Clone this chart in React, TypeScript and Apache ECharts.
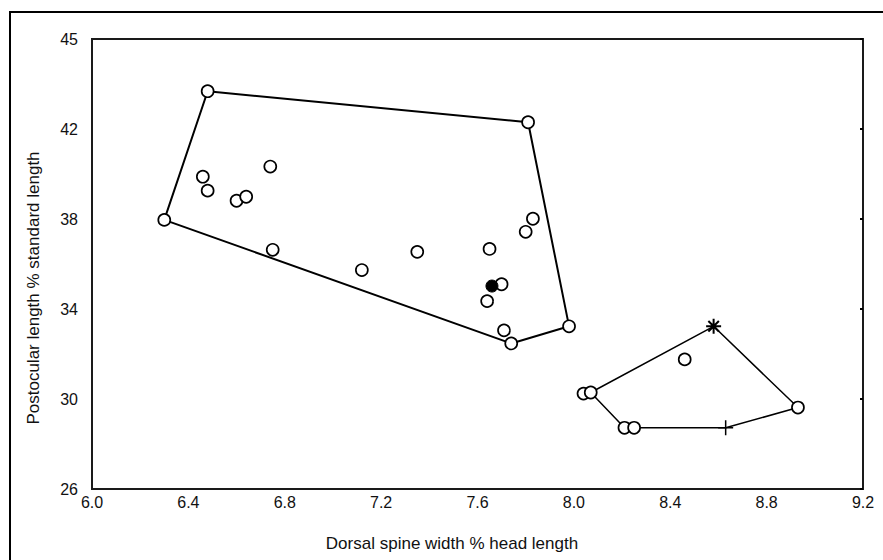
import React, { useEffect, useRef } from "react";
import * as echarts from "echarts";

// Group 1 (large polygon) open circles; first five are hull vertices
const group1X = [6.48, 7.81, 7.98, 7.74, 6.30, 6.46, 6.48, 6.60, 6.64, 6.74, 6.75, 7.12, 7.35, 7.65, 7.80, 7.83, 7.70, 7.64, 7.71];
const group1Y = [43.68, 42.3, 33.23, 32.47, 37.96, 39.88, 39.26, 38.81, 38.99, 40.33, 36.63, 35.73, 36.54, 36.67, 37.43, 38.01, 35.1, 34.35, 33.05];
const hull1Order = [0, 1, 2, 3, 4, 0];
// filled point
const filledX = [7.66];
const filledY = [35.02];

// Group 2 (small polygon) open circles
const group2X = [8.04, 8.07, 8.21, 8.25, 8.93, 8.46];
const group2Y = [30.24, 30.29, 28.72, 28.72, 29.62, 31.76];
const starX = [8.58];
const starY = [33.23];
const plusX = [8.63];
const plusY = [28.72];

const xTickLabels = ["6.0", "6.4", "6.8", "7.2", "7.6", "8.0", "8.4", "8.8", "9.2"];
const yTickValues = [26, 30, 34, 38, 42, 46];
const yTickLabels = ["26", "30", "34", "38", "42", "45"];

const xTitle = "Dorsal spine width % head length";
const yTitle = "Postocular length % standard length";

const FONT = '"Liberation Sans", Arial, sans-serif';

export default function App() {
  const ref = useRef<HTMLDivElement>(null);
  useEffect(() => {
    if (!ref.current) return;
    const chart = echarts.init(ref.current, undefined, { renderer: "svg" });
    const g1 = group1X.map((x, i) => [x, group1Y[i]]);
    const g2 = group2X.map((x, i) => [x, group2Y[i]]);
    const star = starX.map((x, i) => [x, starY[i]]);
    const plus = plusX.map((x, i) => [x, plusY[i]]);
    const hull1 = hull1Order.map((i) => g1[i]);
    const hull2 = [g2[1], star[0], g2[4], plus[0], g2[2], g2[1]];
    const openStyle = { color: "#fff", borderColor: "#000", borderWidth: 1.7, opacity: 1 };
    chart.setOption({
      animation: false,
      backgroundColor: "#fff",
      grid: { left: 92, top: 39, right: 20, bottom: 71, show: true, borderColor: "#1a1a1a", borderWidth: 2 },
      xAxis: {
        type: "value", min: 6.0, max: 9.2, interval: 0.4,
        axisLine: { show: false }, axisTick: { show: false }, splitLine: { show: false },
        axisLabel: {
          margin: 5, color: "#111", fontSize: 16, fontFamily: FONT,
          formatter: (v: number) => { const s = v.toFixed(1); return xTickLabels.includes(s) ? s : ""; },
        },
      },
      yAxis: [
        {
          type: "value", min: 26, max: 46, interval: 4,
          axisLine: { show: false }, axisTick: { show: false }, splitLine: { show: false },
          axisLabel: {
            margin: 14, color: "#111", fontSize: 16, fontFamily: FONT,
            formatter: (v: number) => { const i = yTickValues.indexOf(Math.round(v)); return i >= 0 ? yTickLabels[i] : ""; },
          },
        },
        {
          type: "value", min: 26, max: 46, interval: 4, position: "right",
          axisLine: { show: false }, splitLine: { show: false }, axisLabel: { show: false },
          axisTick: { show: true, inside: true, length: 3, lineStyle: { color: "#000", width: 2 } },
        },
      ],
      graphic: [
        { type: "rect", shape: { x: 10, y: 12, width: 900, height: 600 }, style: { fill: "none", stroke: "#000", lineWidth: 2 }, silent: true },
        { type: "text", x: 452, y: 543, style: { text: xTitle, font: `17px ${FONT}`, fill: "#111", align: "center", verticalAlign: "middle" } },
        { type: "text", x: 33, y: 288, rotation: Math.PI / 2, style: { text: yTitle, font: `17px ${FONT}`, fill: "#111", align: "center", verticalAlign: "middle" } },
      ],
      series: [
        { type: "line", data: hull1, showSymbol: false, symbol: "none", lineStyle: { color: "#000", width: 2 }, z: 2 },
        { type: "line", data: hull2, showSymbol: false, symbol: "none", lineStyle: { color: "#000", width: 1.5 }, z: 2 },
        { type: "scatter", data: g1, symbol: "circle", symbolSize: 12, itemStyle: openStyle, z: 3 },
        { type: "scatter", data: g2, symbol: "circle", symbolSize: 12, itemStyle: openStyle, z: 3 },
        { type: "scatter", data: filledX.map((x, i) => [x, filledY[i]]), symbol: "circle", symbolSize: 12, itemStyle: { color: "#000", borderColor: "#000", opacity: 1 }, z: 4 },
        {
          type: "scatter", data: star, symbolSize: 15,
          symbol: "path://M0,5L10,5M5,0L5,10M1.5,1.5L8.5,8.5M8.5,1.5L1.5,8.5",
          itemStyle: { color: "none", borderColor: "#000", borderWidth: 2, opacity: 1 }, z: 4,
        },
        {
          type: "scatter", data: plus, symbolSize: 15,
          symbol: "path://M0,5L10,5M5,0L5,10",
          itemStyle: { color: "none", borderColor: "#000", borderWidth: 1.5, opacity: 1 }, z: 4,
        },
      ],
    });
    return () => chart.dispose();
  }, []);
  return <div ref={ref} style={{ position: "absolute", left: 0, top: 0, width: 883, height: 560 }} />;
}
